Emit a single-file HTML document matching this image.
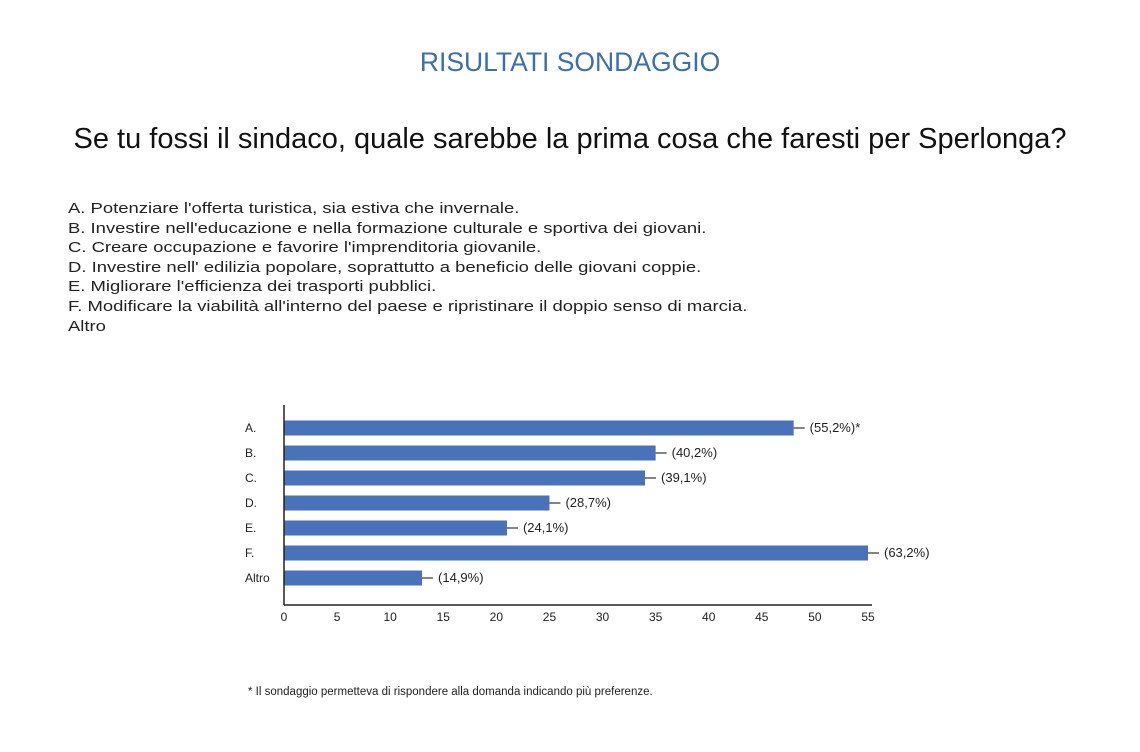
<!DOCTYPE html>
<html><head><meta charset="utf-8"><style>
body{margin:0;background:#fff;width:1140px;height:752px;overflow:hidden;font-family:"Liberation Sans",sans-serif;position:relative}
.t{position:absolute;white-space:nowrap}
</style></head><body>
<div class="t" style="left:0;width:1140px;text-align:center;top:47px;font-size:26.5px;color:#3d6fa8">RISULTATI SONDAGGIO</div>
<div class="t" style="left:0;width:1140px;text-align:center;top:123px;font-size:29px;color:#111">Se tu fossi il sindaco, quale sarebbe la prima cosa che faresti per Sperlonga?</div>
<div class="t" style="left:68px;top:199px;font-size:15px;line-height:19.6px;color:#222;transform:scaleX(1.23);transform-origin:0 0">
A. Potenziare l'offerta turistica, sia estiva che invernale.<br>
B. Investire nell'educazione e nella formazione culturale e sportiva dei giovani.<br>
C. Creare occupazione e favorire l'imprenditoria giovanile.<br>
D. Investire nell' edilizia popolare, soprattutto a beneficio delle giovani coppie.<br>
E. Migliorare l'efficienza dei trasporti pubblici.<br>
F. Modificare la viabilità all'interno del paese e ripristinare il doppio senso di marcia.<br>
Altro</div>
<svg id="chart" width="1140" height="752" style="position:absolute;left:0;top:0"></svg>
<div class="t" style="left:248px;top:686px;font-size:11.5px;color:#222">* Il sondaggio permetteva di rispondere alla domanda indicando più preferenze.</div>
<script>
const categories=["A.","B.","C.","D.","E.","F.","Altro"];
const values=[48,35,34,25,21,55,13];
const valueLabels=["(55,2%)*","(40,2%)","(39,1%)","(28,7%)","(24,1%)","(63,2%)","(14,9%)"];
const ticks=[0,5,10,15,20,25,30,35,40,45,50,55];
const svg=document.getElementById('chart');const NS="http://www.w3.org/2000/svg";
const x0=284,x1=868,yTop=405,yBot=605,firstY=428,step=25,bh=15;
const xs=v=>x0+(x1-x0)*v/55;
function mk(t,a){const e=document.createElementNS(NS,t);for(const k in a)e.setAttribute(k,a[k]);svg.appendChild(e);return e;}
categories.forEach((c,i)=>{const cy=firstY+i*step;
const b=mk('rect',{x:x0,y:cy-bh/2,width:xs(values[i])-x0,height:bh,fill:'#4a72b8'});


const l=mk('line',{x1:xs(values[i]),x2:xs(values[i])+11,y1:cy,y2:cy,stroke:'#333','stroke-width':1.2});


const t=mk('text',{x:xs(values[i])+16,y:cy+4,'font-size':13,fill:'#222','font-family':'Liberation Sans'});t.textContent=valueLabels[i];


const ct=mk('text',{x:245,y:cy+4,'font-size':12,fill:'#222','font-family':'Liberation Sans'});ct.textContent=c;


});
const ya=mk('line',{x1:x0,x2:x0,y1:yTop,y2:yBot,stroke:'#222','stroke-width':1.5});


const xa=mk('line',{x1:x0,x2:x1+4,y1:yBot,y2:yBot,stroke:'#222','stroke-width':1.5});


ticks.forEach(v=>{const t=mk('text',{x:xs(v),y:621,'font-size':12,fill:'#222','text-anchor':'middle','font-family':'Liberation Sans'});t.textContent=v;

});
</script>
</body></html>
